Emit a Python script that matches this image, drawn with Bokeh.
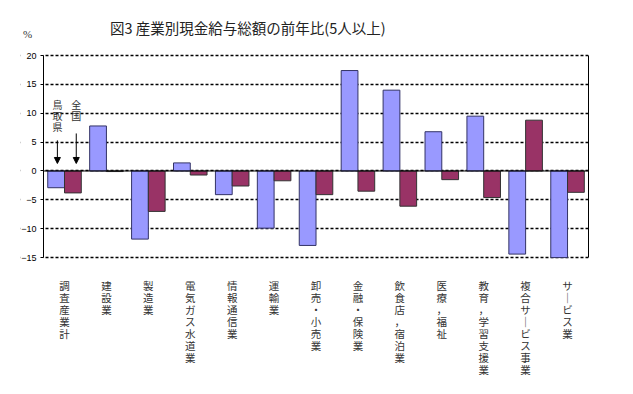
from bokeh.plotting import figure
from bokeh.models import (ColumnDataSource, FixedTicker, Label, Arrow, NormalHead,
                          Range1d, LinearAxis, BoxAnnotation)
from bokeh.embed import file_html
from bokeh.resources import INLINE

categories = ["調査産業計", "建設業", "製造業", "電気ガス水道業", "情報通信業", "運輸業",
              "卸売・小売業", "金融・保険業", "飲食店，宿泊業", "医療，福祉",
              "教育，学習支援業", "複合サービス事業", "サービス業"]
tottori = [-2.9, 7.8, -11.8, 1.4, -4.1, -9.9, -12.9, 17.4, 14.0, 6.8, 9.5, -14.4, -15.0]
zenkoku = [-3.8, -0.1, -7.0, -0.7, -2.6, -1.7, -4.1, -3.5, -6.1, -1.5, -4.6, 8.8, -3.7]
y_ticks = [-15, -10, -5, 0, 5, 10, 15, 20]
y_min, y_max = -15, 20

n = len(categories)
centers = [i + 0.5 for i in range(n)]
src = ColumnDataSource(dict(
    xb=[c - 0.2 for c in centers],
    xr=[c + 0.2 for c in centers],
    tottori=tottori, zenkoku=zenkoku))

W, H = 625, 386
# the frame extends beyond the value area so that title, unit and tick labels sit inside it
p = figure(width=W, height=H, output_backend="svg", toolbar_location=None,
           x_range=Range1d(-0.55, n), y_range=Range1d(-16.2, 27.8),
           min_border_left=20, min_border_right=37, min_border_top=10,
           min_border_bottom=122)
p.outline_line_color = None
p.background_fill_color = "white"

# grid
p.xgrid.grid_line_color = None
p.ygrid.ticker = FixedTicker(ticks=y_ticks)
p.ygrid.grid_line_color = "black"
p.ygrid.grid_line_dash = "3 2"
p.ygrid.grid_line_width = 1.5
# hide grid left of the y axis
p.add_layout(BoxAnnotation(right=0, fill_color="white", fill_alpha=1.0,
                           line_color=None, level="underlay"))

# y axis placed at x = 0
p.yaxis.fixed_location = 0
p.yaxis.ticker = FixedTicker(ticks=y_ticks)
p.yaxis.bounds = (y_min, y_max)
p.yaxis.axis_line_color = "black"
p.yaxis.major_tick_out = 3
p.yaxis.major_tick_in = 0
p.yaxis.minor_tick_line_color = None
p.yaxis.major_label_text_font = "Liberation Sans"
p.yaxis.major_label_text_font_size = "9px"
p.yaxis.major_label_text_color = "black"
p.yaxis.major_label_standoff = 4

# right border as an unlabeled axis
rax = LinearAxis(bounds=(y_min, y_max), ticker=FixedTicker(ticks=[]),
                 major_label_text_font_size="0px", major_tick_line_color=None,
                 minor_tick_line_color=None, axis_line_color="black")
p.add_layout(rax, "right")

# x axis with vertical labels
p.xaxis.ticker = FixedTicker(ticks=centers)
p.xaxis.major_label_overrides = {c: "\n".join(lab.replace("ー", "｜")) for c, lab in zip(centers, categories)}
p.xaxis.axis_line_color = None
p.xaxis.major_tick_line_color = None
p.xaxis.minor_tick_line_color = None
p.xaxis.major_label_text_font = "Noto Sans CJK JP"
p.xaxis.major_label_text_font_size = "10.5px"
p.xaxis.major_label_text_line_height = 0.8
p.xaxis.major_label_text_color = "#333333"
p.xaxis.major_label_standoff = 7
p.xaxis.major_label_text_align = "center"

# bars
p.vbar(x="xb", top="tottori", bottom=0, width=0.4, source=src,
       fill_color="#9999FF", line_color="#333366", line_width=1)
p.vbar(x="xr", top="zenkoku", bottom=0, width=0.4, source=src,
       fill_color="#993366", line_color="#333333", line_width=1)

# zero line
p.line(x=[0, n], y=[0, 0], line_color="black", line_width=1)

# annotations
p.add_layout(Label(x=0.33, y=12.9, text="鳥\n取\n県", text_font="Noto Sans CJK JP",
                   text_font_size="10px", text_align="center", text_baseline="top",
                   text_line_height=0.75, text_color="#333333"))
p.add_layout(Label(x=0.78, y=12.9, text="全\n国", text_font="Noto Sans CJK JP",
                   text_font_size="10px", text_align="center", text_baseline="top",
                   text_line_height=0.75, text_color="#333333"))
p.add_layout(Arrow(x_start=0.33, y_start=5.3, x_end=0.33, y_end=1.3,
                   end=NormalHead(size=6, fill_color="black", line_color="black"),
                   line_color="black", line_width=1))
p.add_layout(Arrow(x_start=0.78, y_start=6.5, x_end=0.78, y_end=1.3,
                   end=NormalHead(size=6, fill_color="black", line_color="black"),
                   line_color="black", line_width=1))

# title and unit
p.add_layout(Label(x=4.91, y=24.85,
                   text="図3  産業別現金給与総額の前年比(5人以上)",
                   text_font="Noto Sans CJK JP", text_font_size="14.5px",
                   text_align="center", text_baseline="middle", text_color="#222222"))
p.add_layout(Label(x=-0.38, y=23.8,
                   text="%", text_font="Liberation Serif", text_font_size="11px",
                   text_align="center", text_baseline="middle", text_color="#333333"))

open("out.html", "w").write(file_html(p, INLINE))
